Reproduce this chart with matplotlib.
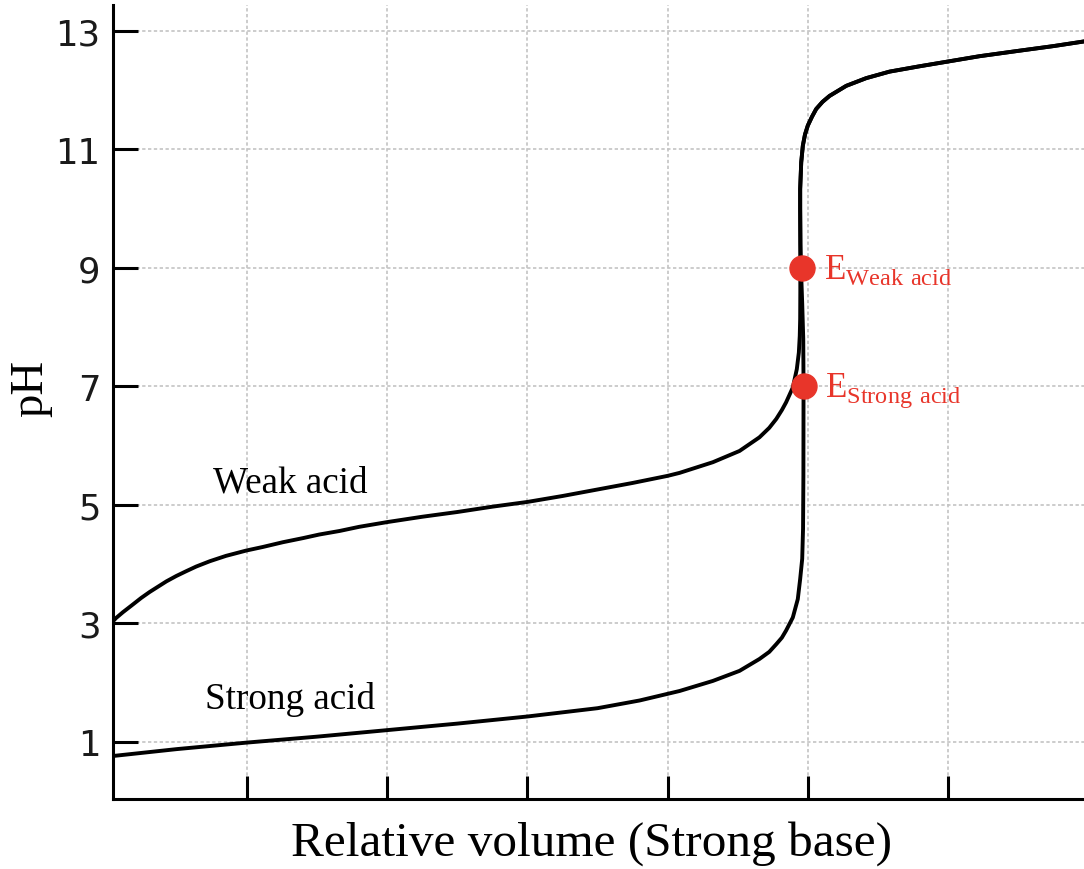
import matplotlib.pyplot as plt

plt.rcParams['mathtext.fontset'] = 'custom'
plt.rcParams['mathtext.rm'] = 'Liberation Serif'

# weak acid curve up to the equivalence jump
weak_x = [0.006, 0.013, 0.023, 0.035, 0.049, 0.061, 0.073, 0.085, 0.099, 0.113,
          0.1275, 0.147, 0.170, 0.199, 0.2225, 0.251, 0.28, 0.303, 0.332, 0.36,
          0.40, 0.45, 0.50, 0.55, 0.60, 0.65, 0.70, 0.75, 0.80, 0.817,
          0.8645, 0.9026, 0.931, 0.945, 0.955, 0.963, 0.969, 0.9786, 0.9843, 0.9872,
          0.9885, 0.9891, 0.9893, 0.9893, 0.9893]
weak_ph = [3.00, 3.09, 3.19, 3.30, 3.43, 3.53, 3.62, 3.71, 3.80, 3.88,
           3.96, 4.05, 4.14, 4.23, 4.29, 4.37, 4.44, 4.50, 4.56, 4.63,
           4.71, 4.80, 4.88, 4.97, 5.05, 5.15, 5.26, 5.37, 5.49, 5.54,
           5.72, 5.91, 6.14, 6.30, 6.45, 6.60, 6.73, 6.98, 7.29, 7.57,
           7.85, 8.14, 8.60, 9.00, 9.50]

# strong acid curve up to the jump
strong_x = [0.006, 0.1, 0.2, 0.3, 0.4, 0.5, 0.6, 0.7, 0.76, 0.817,
            0.8645, 0.9026, 0.931, 0.945, 0.955, 0.963, 0.969, 0.9786, 0.9857, 0.9891,
            0.992, 0.9932, 0.9937, 0.9939, 0.9935, 0.992, 0.9905, 0.9895]
strong_ph = [0.76, 0.88, 0.99, 1.09, 1.20, 1.31, 1.43, 1.57, 1.70, 1.86,
             2.03, 2.20, 2.40, 2.52, 2.65, 2.76, 2.88, 3.10, 3.41, 3.75,
             4.09, 4.60, 5.50, 7.00, 7.80, 8.40, 8.90, 9.40]

# excess base branch, shared by both curves
base_x = [0.9891, 0.9891, 0.9906, 0.9929, 0.996, 1.000, 1.006, 1.012, 1.021, 1.031,
          1.0548, 1.0833, 1.1166, 1.1594, 1.1997, 1.2449, 1.30, 1.35, 1.40]
base_ph = [10.0, 10.33, 10.78, 11.06, 11.25, 11.40, 11.55, 11.68, 11.80, 11.90,
           12.07, 12.20, 12.31, 12.40, 12.48, 12.57, 12.66, 12.74, 12.83]

eq_x = [0.9921, 0.9939]
eq_ph = [9.0, 7.0]
eq_labels = [r'$\mathrm{E}_{\mathrm{Weak\ acid}}$', r'$\mathrm{E}_{\mathrm{Strong\ acid}}$']

y_ticks = [1, 3, 5, 7, 9, 11, 13]
x_ticks = [0.2, 0.4, 0.6, 0.8, 1.0, 1.2]

red = '#e8352a'

fig = plt.figure(figsize=(10.84, 8.7), dpi=100)
ax = fig.add_axes([113 / 1084, 70 / 870, 971 / 1084, 794 / 870])

ax.plot(weak_x + base_x, weak_ph + base_ph, color='black', lw=2.8,
        solid_joinstyle='round', zorder=3)
ax.plot(strong_x + base_x, strong_ph + base_ph, color='black', lw=2.8,
        solid_joinstyle='round', zorder=3)
ax.plot(eq_x, eq_ph, 'o', color=red, ms=18, zorder=5)
for x, y, lab in zip(eq_x, eq_ph, eq_labels):
    ax.text(x + 0.031, y - 0.17, lab, color=red, fontsize=25, va='baseline', ha='left')

ax.text(0.151, 5.22, 'Weak acid', family='Liberation Serif', fontsize=26.7, va='baseline')
ax.text(0.140, 1.58, 'Strong acid', family='Liberation Serif', fontsize=26.7, va='baseline')

ax.set_xlim(0.0088, 1.394)
ax.set_ylim(0.038, 13.434)
ax.set_xticks(x_ticks)
ax.set_yticks(y_ticks)
ax.set_xticklabels([])
ax.tick_params(axis='x', direction='in', length=16.5, width=2.2, labelbottom=False)
ax.tick_params(axis='y', direction='in', length=18, width=2.2, labelsize=25.5,
               pad=9, labelcolor='#1a1a1a')
ax.grid(True, color='#c4c4c4', linestyle=(0, (2, 1.5)), linewidth=1.2)
ax.set_axisbelow(True)
for side in ['top', 'right']:
    ax.spines[side].set_visible(False)
for side in ['left', 'bottom']:
    ax.spines[side].set_linewidth(2.2)

fig.text(591.5 / 1084, 1 - 856 / 870, 'Relative volume (Strong base)',
         family='Liberation Serif', fontsize=35.5, ha='center', va='baseline')
fig.text(31 / 1084, 1 - 388 / 870, 'pH', family='Liberation Serif', fontsize=33.6,
         rotation=90, ha='center', va='center')

fig.savefig('out.png', dpi=100)
